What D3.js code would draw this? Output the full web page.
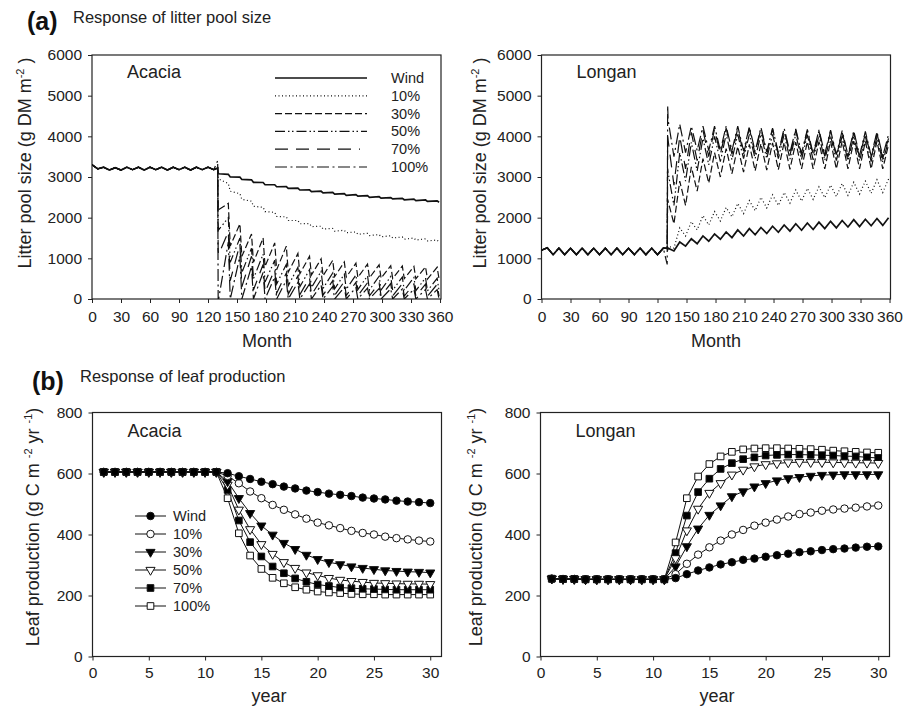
<!DOCTYPE html>
<html>
<head>
<meta charset="utf-8">
<script src="https://cdn.jsdelivr.net/npm/d3@7"></script>
<style>
  body { margin: 0; background: #fff; }
  svg { font-family: Arial, "Liberation Sans", sans-serif; }
</style>
</head>
<body>
<svg id="chart" width="913" height="709"></svg>
<script>
// ---------------- data ----------------
var seriesNames = ["Wind", "10%", "30%", "50%", "70%", "100%"];

// (a) litter pool, monthly
var monthTicks = [0, 30, 60, 90, 120, 150, 180, 210, 240, 270, 300, 330, 360];
var litterTicks = [0, 1000, 2000, 3000, 4000, 5000, 6000];
var preMonths = [0, 6, 12, 18, 24, 30, 36, 42, 48, 54, 60, 66, 72, 78, 84, 90, 96, 102, 108, 114, 120, 126];
var jumpMonths = [130, 130.5];
var cycleMonthsA = [131, 143, 155, 167, 179, 191, 203, 215, 227, 239, 251, 263, 275, 287, 299, 311, 323, 335, 347, 359];
var acaciaMonthsB = [141, 153, 165, 177, 189, 201, 213, 225, 237, 249, 261, 273, 285, 297, 309, 321, 333, 345, 357];
var longanMonthsB = [137, 149, 161, 173, 185, 197, 209, 221, 233, 245, 257, 269, 281, 293, 305, 317, 329, 341, 353];

var acaciaPre = [3300, 3200, 3240, 3170, 3230, 3170, 3240, 3180, 3240, 3170, 3240, 3180, 3240, 3170, 3240, 3180, 3240, 3170, 3240, 3180, 3240, 3180];
var acaciaJump = [[3220, 3100], [3220, 3000], [3220, 2250], [3220, 1800], [3220, 1200], [3400, 0]];
var acaciaLitterA = [
  [3080, 3000, 2940, 2870, 2810, 2760, 2720, 2680, 2640, 2610, 2580, 2550, 2530, 2500, 2480, 2460, 2440, 2420, 2400, 2380],
  [2950, 2650, 2450, 2280, 2150, 2030, 1930, 1850, 1780, 1720, 1670, 1630, 1590, 1560, 1530, 1500, 1470, 1450, 1430, 1390],
  [2200, 1300, 1050, 900, 800, 720, 660, 620, 590, 570, 550, 540, 530, 520, 510, 505, 500, 495, 490, 490],
  [1700, 900, 650, 500, 420, 370, 330, 300, 280, 260, 250, 240, 230, 225, 220, 215, 210, 205, 200, 200],
  [1100, 450, 300, 220, 170, 140, 120, 110, 100, 95, 90, 85, 80, 80, 75, 75, 70, 70, 70, 70],
  [0, 0, 0, 0, 0, 0, 0, 0, 0, 0, 0, 0, 0, 0, 0, 0, 0, 0, 0, 0]
];
var acaciaLitterB = [
  [3065, 2995, 2930, 2865, 2810, 2765, 2725, 2685, 2650, 2620, 2590, 2565, 2540, 2515, 2495, 2475, 2455, 2435, 2415],
  [2840, 2590, 2405, 2255, 2130, 2020, 1930, 1855, 1790, 1735, 1690, 1650, 1615, 1585, 1555, 1525, 1500, 1480, 1450],
  [2350, 1850, 1600, 1500, 1380, 1300, 1120, 1050, 990, 950, 910, 880, 860, 840, 820, 810, 800, 790, 780],
  [2000, 1500, 1250, 1100, 950, 850, 780, 720, 680, 640, 610, 590, 570, 560, 550, 540, 530, 520, 510],
  [1650, 1350, 1050, 850, 730, 640, 570, 520, 480, 450, 430, 410, 400, 390, 380, 375, 370, 365, 360],
  [1400, 1050, 800, 650, 540, 460, 410, 370, 340, 310, 290, 280, 270, 260, 250, 245, 240, 235, 230]
];

var longanPre = [1200, 1260, 1090, 1250, 1090, 1250, 1090, 1250, 1090, 1250, 1090, 1250, 1090, 1250, 1090, 1250, 1090, 1250, 1090, 1250, 1090, 1250];
var longanJump = [[1250, 1220], [1250, 1280], [1250, 2450], [1250, 3200], [1250, 4000], [850, 4750]];
var longanLitterA = [
  [1250, 1400, 1480, 1550, 1600, 1650, 1700, 1730, 1760, 1790, 1820, 1850, 1870, 1890, 1910, 1930, 1950, 1960, 1980, 2000],
  [1300, 1750, 1900, 2050, 2150, 2250, 2350, 2420, 2500, 2560, 2620, 2680, 2720, 2760, 2800, 2840, 2870, 2900, 2930, 2950],
  [2400, 2900, 3250, 3450, 3600, 3700, 3750, 3800, 3820, 3840, 3850, 3860, 3870, 3870, 3880, 3880, 3880, 3880, 3880, 3800],
  [3100, 3600, 3850, 3950, 4000, 4050, 4050, 4050, 4050, 4050, 4050, 4050, 4040, 4030, 4020, 4010, 4000, 4000, 3990, 3900],
  [3900, 4000, 4100, 4150, 4180, 4200, 4200, 4200, 4200, 4180, 4160, 4150, 4140, 4130, 4120, 4100, 4090, 4080, 4070, 3950],
  [4400, 4300, 4250, 4250, 4250, 4250, 4250, 4230, 4220, 4200, 4200, 4180, 4170, 4160, 4150, 4140, 4130, 4120, 4110, 4050]
];
var longanLitterB = [
  [1180, 1300, 1360, 1420, 1470, 1510, 1550, 1580, 1610, 1640, 1670, 1690, 1710, 1730, 1750, 1770, 1780, 1800, 1810],
  [1250, 1550, 1700, 1820, 1920, 2020, 2100, 2170, 2240, 2300, 2360, 2410, 2450, 2490, 2520, 2550, 2580, 2600, 2620],
  [1850, 2300, 2650, 2850, 3000, 3080, 3120, 3150, 3170, 3180, 3190, 3200, 3200, 3200, 3200, 3200, 3200, 3200, 3200],
  [2300, 2900, 3150, 3300, 3380, 3420, 3450, 3450, 3450, 3450, 3440, 3430, 3420, 3410, 3400, 3400, 3390, 3380, 3370],
  [2800, 3200, 3400, 3500, 3550, 3560, 3560, 3560, 3560, 3550, 3540, 3530, 3520, 3510, 3500, 3490, 3480, 3470, 3460],
  [3500, 3600, 3650, 3650, 3650, 3650, 3640, 3630, 3620, 3600, 3600, 3580, 3570, 3560, 3550, 3540, 3530, 3520, 3510]
];

// (b) leaf production, yearly
var years = [1, 2, 3, 4, 5, 6, 7, 8, 9, 10, 11, 12, 13, 14, 15, 16, 17, 18, 19, 20, 21, 22, 23, 24, 25, 26, 27, 28, 29, 30];
var yearTicks = [0, 5, 10, 15, 20, 25, 30];
var leafTicks = [0, 200, 400, 600, 800];
var acaciaLeaf = [
  [605, 605, 605, 605, 605, 605, 605, 605, 605, 605, 605, 601, 591, 582, 573, 565, 557, 551, 544, 539, 534, 530, 526, 521, 518, 515, 511, 508, 506, 503],
  [605, 605, 605, 605, 605, 605, 605, 605, 605, 605, 605, 592, 568, 541, 519, 497, 481, 466, 452, 439, 430, 421, 412, 405, 400, 393, 388, 384, 380, 377],
  [605, 605, 605, 605, 605, 605, 605, 605, 605, 605, 605, 574, 519, 470, 429, 399, 372, 352, 333, 319, 309, 302, 295, 290, 286, 282, 280, 278, 277, 275],
  [605, 605, 605, 605, 605, 605, 605, 605, 605, 605, 605, 563, 481, 417, 368, 336, 309, 290, 275, 266, 257, 251, 247, 244, 241, 240, 239, 238, 238, 237],
  [605, 605, 605, 605, 605, 605, 605, 605, 605, 605, 605, 546, 446, 375, 328, 295, 273, 256, 245, 236, 231, 226, 224, 222, 221, 220, 219, 219, 219, 219],
  [605, 605, 605, 605, 605, 605, 605, 605, 605, 605, 605, 519, 404, 331, 287, 258, 240, 227, 219, 213, 210, 208, 205, 204, 204, 203, 203, 203, 203, 203]
];
var longanLeaf = [
  [255, 254, 254, 253, 253, 253, 253, 253, 253, 253, 253, 257, 270, 282, 292, 302, 309, 317, 321, 327, 332, 337, 342, 345, 349, 352, 354, 357, 360, 361],
  [255, 254, 254, 253, 253, 253, 253, 253, 253, 253, 253, 270, 304, 334, 358, 380, 400, 415, 429, 439, 449, 459, 467, 472, 478, 482, 485, 488, 492, 495],
  [255, 254, 254, 253, 253, 253, 253, 253, 253, 253, 253, 295, 361, 419, 464, 495, 525, 541, 557, 568, 577, 584, 588, 592, 595, 596, 597, 597, 597, 597],
  [255, 254, 254, 253, 253, 253, 253, 253, 253, 253, 253, 322, 413, 484, 536, 568, 596, 612, 623, 630, 633, 636, 637, 637, 637, 636, 636, 635, 635, 634],
  [255, 254, 254, 253, 253, 253, 253, 253, 253, 253, 253, 339, 462, 539, 583, 615, 634, 647, 653, 659, 661, 662, 662, 661, 660, 659, 657, 656, 653, 651],
  [255, 254, 254, 253, 253, 253, 253, 253, 253, 253, 253, 374, 519, 590, 631, 656, 671, 679, 682, 683, 683, 682, 681, 680, 678, 675, 673, 671, 669, 668]
];

// ---------------- styles ----------------
var dashes = [null, "1,2.5", "7,3", "10,3,1.5,2.5,1.5,3", "13,8", "12,3.5,2,3.5"];
var markerShape = [d3.symbolCircle, d3.symbolCircle, d3.symbolTriangle, d3.symbolTriangle, d3.symbolSquare, d3.symbolSquare];
var markerFill = ["#000", "#fff", "#000", "#fff", "#000", "#fff"];
var markerSize = [44, 44, 36, 36, 44, 44];
var tickFont = 15.5;

var svg = d3.select("#chart");

// ---------------- helpers ----------------
function frame(box, xDomain, yDomain, xTicks, yTicks, padX) {
  var x = d3.scaleLinear().domain(xDomain).range([box.x0, box.x1]);
  var y = d3.scaleLinear().domain(yDomain).range([box.y1, box.y0]);

  svg.append("g")
    .attr("transform", "translate(0," + box.y1 + ")")
    .call(d3.axisBottom(x).tickValues(xTicks).tickFormat(d3.format("d")).tickSize(4).tickSizeOuter(0).tickPadding(padX))
    .call(function(g) {
      g.select(".domain").remove();
      g.selectAll("text").attr("font-size", tickFont).attr("fill", "#222").attr("font-family", null);
      g.selectAll("line").attr("stroke", "#222");
    });

  svg.append("g")
    .attr("transform", "translate(" + box.x0 + ",0)")
    .call(d3.axisLeft(y).tickValues(yTicks).tickFormat(d3.format("d")).tickSize(4).tickSizeOuter(0).tickPadding(6))
    .call(function(g) {
      g.select(".domain").remove();
      g.selectAll("text").attr("font-size", tickFont).attr("fill", "#222").attr("font-family", null);
      g.selectAll("line").attr("stroke", "#222");
    });

  svg.append("rect")
    .attr("x", box.x0).attr("y", box.y0)
    .attr("width", box.x1 - box.x0).attr("height", box.y1 - box.y0)
    .attr("fill", "none").attr("stroke", "#222").attr("stroke-width", 1.2);

  return {x: x, y: y};
}

function litterPoints(pre, jump, lowA, highB, monthsB) {
  var pts = [];
  preMonths.forEach(function(m, i) { pts.push([m, pre[i]]); });
  jumpMonths.forEach(function(m, i) { pts.push([m, jump[i]]); });
  cycleMonthsA.forEach(function(m, k) {
    pts.push([m, lowA[k]]);
    if (k < monthsB.length) pts.push([monthsB[k], highB[k]]);
  });
  return pts;
}

function litterPanel(box, name, pre, jump, valsA, valsB, monthsB, clipId) {
  var s = frame(box, [0, 361], [0, 6000], monthTicks, litterTicks, 8);
  svg.append("clipPath").attr("id", clipId).append("rect")
    .attr("x", box.x0).attr("y", box.y0).attr("width", box.x1 - box.x0).attr("height", box.y1 - box.y0);
  var line = d3.line().x(function(d) { return s.x(d[0]); }).y(function(d) { return s.y(d[1]); });
  var g = svg.append("g").attr("clip-path", "url(#" + clipId + ")");
  for (var i = seriesNames.length - 1; i >= 0; i--) {
    g.append("path")
      .attr("d", line(litterPoints(pre, jump[i], valsA[i], valsB[i], monthsB)))
      .attr("fill", "none")
      .attr("stroke", "#111")
      .attr("stroke-width", i === 0 ? 1.7 : 1.2)
      .attr("stroke-dasharray", dashes[i]);
  }
  svg.append("text").attr("x", box.x0 + 35).attr("y", 78)
    .attr("font-size", 18).attr("fill", "#222").text(name);
  return s;
}

function leafPanel(box, name, data) {
  var s = frame(box, [0, 31], [0, 800], yearTicks, leafTicks, 6.5);
  var line = d3.line().x(function(d, i) { return s.x(years[i]); }).y(function(d) { return s.y(d); });
  for (var i = seriesNames.length - 1; i >= 0; i--) {
    svg.append("path")
      .attr("d", line(data[i]))
      .attr("fill", "none").attr("stroke", "#111").attr("stroke-width", 1);
  }
  for (var j = seriesNames.length - 1; j >= 0; j--) {
    var sym = d3.symbol().type(markerShape[j]).size(markerSize[j]);
    svg.append("g").selectAll("path")
      .data(data[j]).enter().append("path")
      .attr("d", sym)
      .attr("transform", function(d, i) {
        return "translate(" + s.x(years[i]) + "," + s.y(d) + ")" + (markerShape[j] === d3.symbolTriangle ? " rotate(180)" : "");
      })
      .attr("fill", markerFill[j]).attr("stroke", "#111").attr("stroke-width", 1);
  }
  svg.append("text").attr("x", box.x0 + 35).attr("y", 437)
    .attr("font-size", 18).attr("fill", "#222").text(name);
  return s;
}

function yTitle(x, yMid, parts) {
  var t = svg.append("text")
    .attr("transform", "translate(" + x + "," + yMid + ") rotate(-90)")
    .attr("text-anchor", "middle").attr("font-size", 18).attr("fill", "#222");
  parts.forEach(function(p) {
    var ts = t.append("tspan").text(p[0]);
    if (p[1]) ts.attr("dy", p[1]);
    if (p[2]) ts.attr("font-size", p[2]);
  });
}

// ---------------- panels ----------------
var boxTL = {x0: 92, x1: 441, y0: 55, y1: 299};
var boxTR = {x0: 541.5, x1: 890.5, y0: 55, y1: 299};
var boxBL = {x0: 92.5, x1: 441.5, y0: 412.5, y1: 656.5};
var boxBR = {x0: 540.5, x1: 889.5, y0: 412.5, y1: 656.5};

litterPanel(boxTL, "Acacia", acaciaPre, acaciaJump, acaciaLitterA, acaciaLitterB, acaciaMonthsB, "clipTL");
litterPanel(boxTR, "Longan", longanPre, longanJump, longanLitterA, longanLitterB, longanMonthsB, "clipTR");
leafPanel(boxBL, "Acacia", acaciaLeaf);
leafPanel(boxBR, "Longan", longanLeaf);

// legends
var topLegend = svg.append("g");
seriesNames.forEach(function(n, i) {
  var yy = 78 + i * 17.8;
  topLegend.append("line").attr("x1", 275).attr("x2", i === 4 ? 360 : 367).attr("y1", yy).attr("y2", yy)
    .attr("stroke", "#111").attr("stroke-width", i === 0 ? 1.4 : 1.2).attr("stroke-dasharray", dashes[i]);
  topLegend.append("text").attr("x", 391).attr("y", yy + 5).attr("font-size", 14.5).attr("fill", "#222").text(n);
});

var botLegend = svg.append("g");
seriesNames.forEach(function(n, i) {
  var yy = 516 + i * 18;
  botLegend.append("line").attr("x1", 135).attr("x2", 166).attr("y1", yy).attr("y2", yy)
    .attr("stroke", "#111").attr("stroke-width", 1);
  botLegend.append("path")
    .attr("d", d3.symbol().type(markerShape[i]).size(markerSize[i]))
    .attr("transform", "translate(150.5," + yy + ")" + (markerShape[i] === d3.symbolTriangle ? " rotate(180)" : ""))
    .attr("fill", markerFill[i]).attr("stroke", "#111");
  botLegend.append("text").attr("x", 173).attr("y", yy + 5).attr("font-size", 14.5).attr("fill", "#222").text(n);
});

// axis titles
svg.append("text").attr("x", 267).attr("y", 347).attr("text-anchor", "middle").attr("font-size", 18).attr("fill", "#222").text("Month");
svg.append("text").attr("x", 716).attr("y", 347).attr("text-anchor", "middle").attr("font-size", 18).attr("fill", "#222").text("Month");
svg.append("text").attr("x", 269).attr("y", 702).attr("text-anchor", "middle").attr("font-size", 18).attr("fill", "#222").text("year");
svg.append("text").attr("x", 717).attr("y", 702).attr("text-anchor", "middle").attr("font-size", 18).attr("fill", "#222").text("year");

var litterTitle = [["Litter pool size (g DM m"], ["-2", -7, 11], [" )", 7]];
var leafTitle = [["Leaf production (g C m "], ["-2", -7, 11], [" yr ", 7], ["-1", -7, 11], [")", 7]];
yTitle(31, 163, litterTitle);
yTitle(486, 163, litterTitle);
yTitle(39, 527, leafTitle);
yTitle(482, 527, leafTitle);

// panel headings
svg.append("text").attr("x", 27).attr("y", 30).attr("font-size", 25).attr("font-weight", "bold").attr("fill", "#111").text("(a)");
svg.append("text").attr("x", 73).attr("y", 23).attr("font-size", 16.5).attr("fill", "#222").text("Response of litter pool size");
svg.append("text").attr("x", 32).attr("y", 390).attr("font-size", 25).attr("font-weight", "bold").attr("fill", "#111").text("(b)");
svg.append("text").attr("x", 80).attr("y", 382).attr("font-size", 16.5).attr("fill", "#222").text("Response of leaf production");
</script>
</body>
</html>
